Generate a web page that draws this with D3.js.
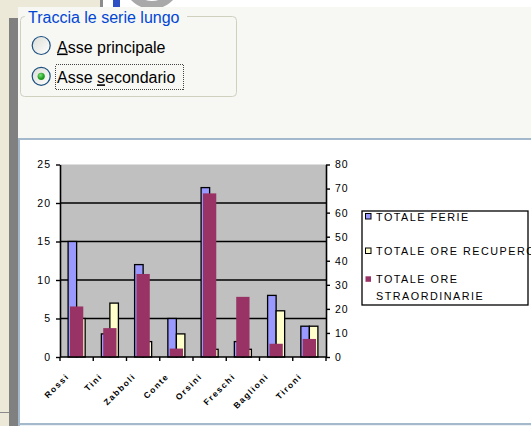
<!DOCTYPE html>
<html>
<head>
<meta charset="utf-8">
<script src="https://cdn.jsdelivr.net/npm/d3@7"></script>
<style>
  html, body { margin: 0; padding: 0; background: #ECE9D8; overflow: hidden; }
  svg { display: block; }
</style>
</head>
<body>
<svg id="c" width="531" height="426"></svg>
<script>
// ---- data ----
const categories = ["Rossi", "Tini", "Zabboli", "Conte", "Orsini", "Freschi", "Baglioni", "Tironi"];
const totaleFerie = [15, 3, 12, 5, 22, 2, 8, 4];
const totaleOreRecupero = [5, 7, 2, 3, 1, 1, 6, 4];
const totaleOreStraordinarie = [21, 12, 34.5, 3.5, 68, 25, 5.5, 7.5];
const seriesNames = ["TOTALE FERIE", "TOTALE ORE RECUPERO", "TOTALE ORE STRAORDINARIE"];
const legendLines = [["TOTALE FERIE"], ["TOTALE ORE RECUPERO"], ["TOTALE ORE", "STRAORDINARIE"]];
const primaryTicks = [0, 5, 10, 15, 20, 25];
const secondaryTicks = [0, 10, 20, 30, 40, 50, 60, 70, 80];
const primaryGrid = [5, 10, 15, 20];
const dialogTitle = "Traccia le serie lungo";
const radioLabels = ["Asse principale", "Asse secondario"];

const colors = { ferie: "#9999FF", recupero: "#FFFFCC", straord: "#993366" };

const W = 531, H = 426;
const svg = d3.select("#c");

// ---- dialog chrome ----
svg.append("rect").attr("width", W).attr("height", H).attr("fill", "#ECE9D8");
svg.append("rect").attr("x", 103).attr("y", 0).attr("width", W - 103).attr("height", 8).attr("fill", "#FFFFFF");
svg.append("rect").attr("x", 100).attr("y", 0).attr("width", 3).attr("height", 8).attr("fill", "#8C8C8C");
svg.append("rect").attr("x", 113).attr("y", 0).attr("width", 7).attr("height", 7).attr("fill", "#2C4FC4");
const clipTop = svg.append("clipPath").attr("id", "topclip");
clipTop.append("rect").attr("x", 0).attr("y", 0).attr("width", W).attr("height", 8);
svg.append("circle").attr("cx", 152).attr("cy", -20).attr("r", 25)
  .attr("fill", "none").attr("stroke", "#A9A9A9").attr("stroke-width", 8)
  .attr("clip-path", "url(#topclip)");

// property panel
svg.append("rect").attr("x", 18).attr("y", 7).attr("width", W - 18).attr("height", 131).attr("fill", "#F7F7F4");
// dark side strip
svg.append("rect").attr("x", 9).attr("y", 18).attr("width", 9).attr("height", H - 18).attr("fill", "#808080");
svg.append("rect").attr("x", 0).attr("y", 412).attr("width", 9).attr("height", 1).attr("fill", "#8A8A8A");

// group box
svg.append("rect").attr("x", 20.5).attr("y", 16.5).attr("width", 216).attr("height", 80)
  .attr("rx", 4).attr("fill", "none").attr("stroke", "#D0D0BF");
svg.append("rect").attr("x", 25).attr("y", 10).attr("width", 162).attr("height", 12).attr("fill", "#F7F7F4");
svg.append("text").attr("x", 28).attr("y", 22.5)
  .attr("font-family", "'Liberation Sans', Arial, sans-serif").attr("font-size", 16)
  .attr("fill", "#0046D5").text(dialogTitle);

// radio buttons
const radioDefs = svg.append("defs");
const rg = radioDefs.append("linearGradient").attr("id", "radioFill")
  .attr("x1", 0).attr("y1", 0).attr("x2", 1).attr("y2", 1);
rg.append("stop").attr("offset", "0%").attr("stop-color", "#DCDCD7");
rg.append("stop").attr("offset", "100%").attr("stop-color", "#FFFFFF");
const dg = radioDefs.append("radialGradient").attr("id", "dotFill").attr("cx", "40%").attr("cy", "35%");
dg.append("stop").attr("offset", "0%").attr("stop-color", "#7DE37D");
dg.append("stop").attr("offset", "100%").attr("stop-color", "#1E9A1E");

const radioY = d3.scalePoint().domain(radioLabels).range([45.5, 76.3]);
const radios = svg.append("g").selectAll("g").data(radioLabels).join("g");
radios.append("circle").attr("cx", 41.2).attr("cy", d => radioY(d)).attr("r", 9)
  .attr("fill", "url(#radioFill)").attr("stroke", "#1C5180").attr("stroke-width", 1.2);
radios.filter((d, i) => i === 1).append("circle").attr("cx", 41.2).attr("cy", d => radioY(d)).attr("r", 3.6)
  .attr("fill", "url(#dotFill)");
const radioText = radios.append("text").attr("x", 57).attr("y", d => radioY(d) + 7)
  .attr("font-family", "'Liberation Sans', Arial, sans-serif").attr("font-size", 16).attr("fill", "#000");
radioText.each(function (d, i) {
  const t = d3.select(this);
  if (i === 0) {
    t.append("tspan").style("text-decoration", "underline").text(d.slice(0, 1));
    t.append("tspan").text(d.slice(1));
  } else {
    t.append("tspan").text(d.slice(0, 5));
    t.append("tspan").style("text-decoration", "underline").text(d.slice(5, 6));
    t.append("tspan").text(d.slice(6));
  }
});
// dotted focus rectangle around the selected option
svg.append("rect").attr("x", 55.5).attr("y", 64.5).attr("width", 128).attr("height", 25)
  .attr("fill", "none").attr("stroke", "#444").attr("stroke-width", 1)
  .attr("stroke-dasharray", "1 1").attr("shape-rendering", "crispEdges");

// chart sheet area
svg.append("rect").attr("x", 18).attr("y", 138).attr("width", W - 18).attr("height", 288).attr("fill", "#A5B9CD");
svg.append("rect").attr("x", 20).attr("y", 140).attr("width", W - 20).attr("height", 283).attr("fill", "#FFFFFF");
svg.append("rect").attr("x", 20).attr("y", 425).attr("width", W - 20).attr("height", 1).attr("fill", "#EEF1F4");

// ---- chart ----
const plot = { left: 60, right: 326, top: 164.5, bottom: 357 };
const x = d3.scaleBand().domain(categories).range([plot.left, plot.right]).paddingInner(0).paddingOuter(0);
const bw = x.bandwidth();
// primary group: two series, wider gap; secondary group: single series
const xPrim = d3.scaleBand().domain(["ferie", "recupero"]).range([0, bw]).paddingInner(0).paddingOuter(0.95);
const xSec = d3.scaleBand().domain(["straord"]).range([0, bw]).paddingInner(0).paddingOuter(0.75);
const yL = d3.scaleLinear().domain([0, 25]).range([plot.bottom, plot.top]);
const yR = d3.scaleLinear().domain([0, 80]).range([plot.bottom, plot.top]);

const chart = svg.append("g");
chart.append("rect").attr("x", plot.left).attr("y", plot.top)
  .attr("width", plot.right - plot.left).attr("height", plot.bottom - plot.top).attr("fill", "#C0C0C0");

chart.append("g").selectAll("line").data(primaryGrid).join("line")
  .attr("x1", plot.left).attr("x2", plot.right)
  .attr("y1", d => yL(d)).attr("y2", d => yL(d))
  .attr("stroke", "#000").attr("stroke-width", 1.6);

const rows = categories.map((c, i) => ({
  cat: c, ferie: totaleFerie[i], recupero: totaleOreRecupero[i], straord: totaleOreStraordinarie[i]
}));

const primBars = [];
rows.forEach(r => ["ferie", "recupero"].forEach(k => primBars.push({ cat: r.cat, key: k, v: r[k] })));
chart.append("g").selectAll("rect").data(primBars).join("rect")
  .attr("x", d => x(d.cat) + xPrim(d.key))
  .attr("width", xPrim.bandwidth())
  .attr("y", d => yL(d.v))
  .attr("height", d => yL(0) - yL(d.v))
  .attr("fill", d => colors[d.key])
  .attr("stroke", "#000").attr("stroke-width", 1.3);

chart.append("g").selectAll("rect").data(rows).join("rect")
  .attr("x", d => x(d.cat) + xSec("straord"))
  .attr("width", xSec.bandwidth())
  .attr("y", d => yR(d.straord))
  .attr("height", d => yR(0) - yR(d.straord))
  .attr("fill", colors.straord);

const axisFont = "'Liberation Sans', Arial, sans-serif";
function styleAxis(g) {
  g.select(".domain").attr("stroke", "#000").attr("stroke-width", 1.6);
  g.selectAll(".tick line").attr("stroke", "#000").attr("stroke-width", 1.4);
  g.selectAll(".tick text").attr("font-family", axisFont).attr("font-size", 10.5)
    .attr("fill", "#000").style("letter-spacing", "1px");
}
chart.append("g").attr("transform", `translate(${plot.left},0)`)
  .call(d3.axisLeft(yL).tickValues(primaryTicks).tickSize(4).tickSizeOuter(0).tickPadding(5))
  .call(styleAxis);
chart.append("g").attr("transform", `translate(${plot.right},0)`)
  .call(d3.axisRight(yR).tickValues(secondaryTicks).tickSize(4).tickSizeOuter(0).tickPadding(5))
  .call(styleAxis);

// category axis: ticks on band boundaries, rotated labels
const catAxis = chart.append("g");
catAxis.append("line").attr("x1", plot.left).attr("x2", plot.right)
  .attr("y1", plot.bottom).attr("y2", plot.bottom).attr("stroke", "#000").attr("stroke-width", 1.6);
const bounds = categories.map(c => x(c)).concat([x(categories[categories.length - 1]) + bw]);
catAxis.selectAll("line.t").data(bounds).join("line").attr("class", "t")
  .attr("x1", d => d).attr("x2", d => d).attr("y1", plot.bottom).attr("y2", plot.bottom + 4)
  .attr("stroke", "#000").attr("stroke-width", 1.4);
catAxis.selectAll("text").data(categories).join("text")
  .attr("transform", d => `translate(${x(d) + bw / 2 - 7},377) rotate(-45)`)
  .attr("text-anchor", "end")
  .attr("font-family", axisFont).attr("font-size", 8.5).attr("font-weight", "bold")
  .style("letter-spacing", "1.5px")
  .attr("fill", "#000").text(d => d);

// legend
const legend = { x: 362, y: 211, w: 166, h: 94 };
const legendColors = [colors.ferie, colors.recupero, colors.straord];
const entryOffsets = [9.5, 44, 72.3];
const lg = svg.append("g");
lg.append("rect").attr("x", legend.x).attr("y", legend.y).attr("width", legend.w).attr("height", legend.h)
  .attr("fill", "#FFFFFF");
const entries = lg.selectAll("g").data(seriesNames).join("g")
  .attr("transform", (d, i) => `translate(${legend.x},${legend.y + entryOffsets[i]})`);
entries.append("rect").attr("x", 3.5).attr("y", -7).attr("width", 5.5).attr("height", 5.5)
  .attr("fill", (d, i) => legendColors[i])
  .attr("stroke", (d, i) => i === 2 ? "none" : "#000").attr("stroke-width", 1);
entries.each(function (d, i) {
  const t = d3.select(this).append("text").attr("x", 14).attr("y", 0)
    .attr("font-family", axisFont).attr("font-size", 10.8).attr("fill", "#000")
    .style("letter-spacing", "1.5px");
  legendLines[i].forEach((line, j) => {
    t.append("tspan").attr("x", 14).attr("dy", j === 0 ? 0 : 16.7).text(line);
  });
});
lg.append("rect").attr("x", legend.x).attr("y", legend.y).attr("width", legend.w).attr("height", legend.h)
  .attr("fill", "none").attr("stroke", "#000").attr("stroke-width", 1.3);
</script>
</body>
</html>
